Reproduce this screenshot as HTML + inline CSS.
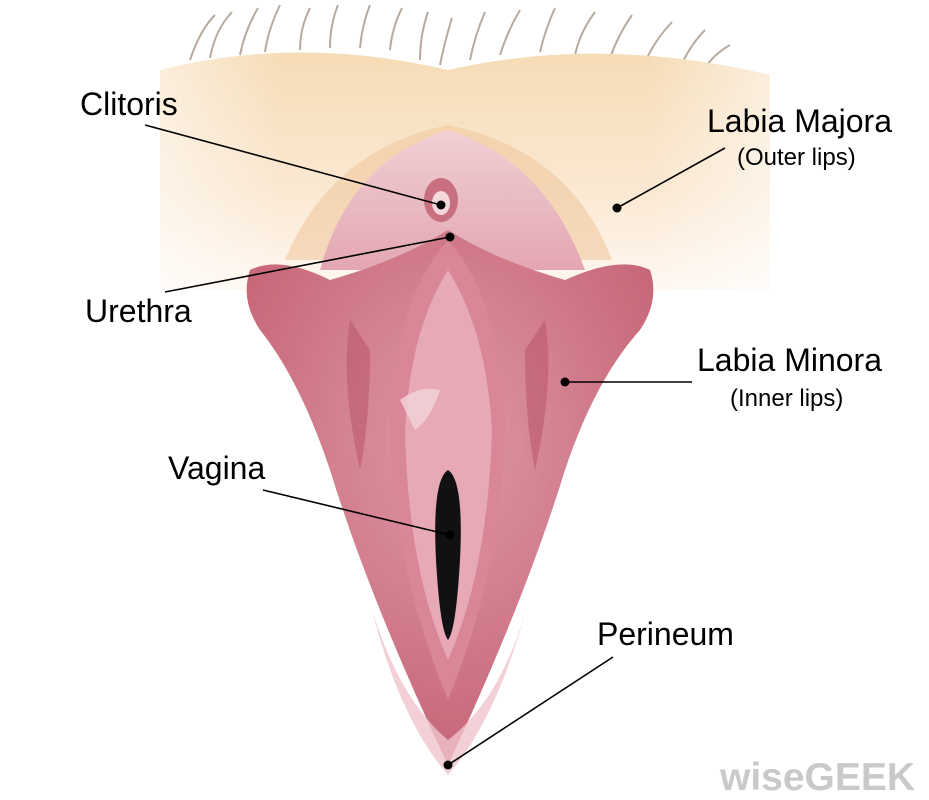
<!DOCTYPE html>
<html><head><meta charset="utf-8"><style>
html,body{margin:0;padding:0;background:#fff;}
svg{display:block;}
text{font-family:"Liberation Sans",sans-serif;fill:#000;}
</style></head><body>
<svg width="929" height="800" viewBox="0 0 929 800" xmlns="http://www.w3.org/2000/svg">
<defs>
<linearGradient id="peach" x1="0" y1="0" x2="0" y2="1">
<stop offset="0" stop-color="#f6dcb6"/><stop offset="0.6" stop-color="#fbe9d3"/><stop offset="1" stop-color="#fff8f2"/>
</linearGradient>
<linearGradient id="side" x1="0" y1="0" x2="1" y2="0">
<stop offset="0" stop-color="#fff" stop-opacity="0.5"/><stop offset="0.2" stop-color="#fff" stop-opacity="0"/><stop offset="0.8" stop-color="#fff" stop-opacity="0"/><stop offset="1" stop-color="#fff" stop-opacity="0.5"/>
</linearGradient>
<linearGradient id="pinkbg" x1="0" y1="0" x2="0" y2="1">
<stop offset="0" stop-color="#f1d0d4"/><stop offset="1" stop-color="#e3a6b2"/>
</linearGradient>
<radialGradient id="minora" cx="0.5" cy="0.4" r="0.6">
<stop offset="0" stop-color="#df98a6"/><stop offset="1" stop-color="#c66677"/>
</radialGradient>
</defs>
<g stroke="#b7aba0" stroke-width="2" fill="none">
<path d="M190 60 Q200 30 215 15"/><path d="M210 58 Q215 30 232 12"/><path d="M240 55 Q245 30 258 8"/>
<path d="M265 52 Q268 30 280 5"/><path d="M300 50 Q300 28 310 8"/><path d="M330 48 Q330 25 338 5"/>
<path d="M360 48 Q362 25 370 5"/><path d="M390 50 Q392 28 402 8"/><path d="M420 60 Q420 35 428 12"/>
<path d="M440 65 Q445 40 452 18"/><path d="M470 60 Q475 35 485 12"/><path d="M500 55 Q508 30 520 10"/>
<path d="M540 52 Q545 30 555 8"/><path d="M575 55 Q580 32 595 12"/><path d="M610 58 Q618 35 632 15"/>
<path d="M645 62 Q655 40 672 22"/><path d="M680 68 Q690 45 705 30"/><path d="M700 75 Q712 55 730 45"/>
</g>
<path d="M160 70 Q300 35 448 70 Q600 35 770 75 L770 290 L160 290 Z" fill="url(#peach)"/>
<path d="M160 70 Q300 35 448 70 Q600 35 770 75 L770 290 L160 290 Z" fill="url(#side)"/>
<path d="M285 260 Q330 150 448 125 Q570 150 612 260 Z" fill="#f0c89e" opacity="0.6"/>
<path d="M320 270 Q350 160 448 130 Q545 160 585 270 Z" fill="url(#pinkbg)"/>
<path d="M448 230 Q400 260 330 280 Q280 255 250 270 Q240 300 260 330 Q300 380 330 470 Q370 600 448 765 Q525 600 565 470 Q595 380 640 330 Q660 300 650 270 Q620 255 565 280 Q495 260 448 230 Z" fill="url(#minora)"/>
<path d="M448 240 Q395 300 390 420 Q390 560 448 700 Q505 560 505 420 Q500 300 448 240 Z" fill="#d98797"/>
<path d="M448 270 Q410 330 405 430 Q408 570 448 660 Q488 570 492 430 Q486 330 448 270 Z" fill="#e7a9b5"/>
<path d="M350 320 Q340 380 360 470 Q370 420 370 350 Z" fill="#b95a6c" opacity="0.6"/>
<path d="M545 320 Q555 380 535 470 Q525 420 525 350 Z" fill="#b95a6c" opacity="0.6"/>
<path d="M372 610 Q400 720 448 775 Q496 720 526 610 Q500 700 448 740 Q400 700 372 610 Z" fill="#f0c4cc" opacity="0.8"/>
<path d="M448 470 Q432 480 436 560 Q440 630 448 640 Q456 630 460 560 Q464 480 448 470 Z" fill="#111"/>
<path d="M400 400 Q420 385 440 390 Q430 420 415 430 Z" fill="#f3d5da" opacity="0.8"/>
<ellipse cx="441" cy="200" rx="17" ry="22" fill="#c8707f"/>
<ellipse cx="441" cy="203" rx="9" ry="12" fill="#f4d8dc"/>
<g stroke="#000" stroke-width="1.6" fill="none">
<line x1="145" y1="125" x2="441" y2="205"/>
<line x1="725" y1="148" x2="617" y2="208"/>
<line x1="165" y1="292" x2="450" y2="237"/>
<line x1="692" y1="382" x2="565" y2="382"/>
<line x1="263" y1="490" x2="450" y2="535"/>
<line x1="613" y1="657" x2="448" y2="765"/>
</g>
<g fill="#000">
<circle cx="441" cy="205" r="4.5"/><circle cx="617" cy="208" r="4.5"/><circle cx="450" cy="237" r="4.5"/>
<circle cx="565" cy="382" r="4.5"/><circle cx="450" cy="535" r="4.5"/><circle cx="448" cy="765" r="4.5"/>
</g>
<text x="80" y="115" font-size="32">Clitoris</text>
<text x="707" y="132" font-size="32">Labia Majora</text>
<text x="737" y="165" font-size="24">(Outer lips)</text>
<text x="85" y="322" font-size="32">Urethra</text>
<text x="697" y="371" font-size="32">Labia Minora</text>
<text x="730" y="406" font-size="24">(Inner lips)</text>
<text x="168" y="479" font-size="32">Vagina</text>
<text x="597" y="645" font-size="32">Perineum</text>
<text x="720" y="790" font-size="39" font-weight="bold" style="fill:#c9c9c9">wiseGEEK</text>
</svg>
</body></html>
